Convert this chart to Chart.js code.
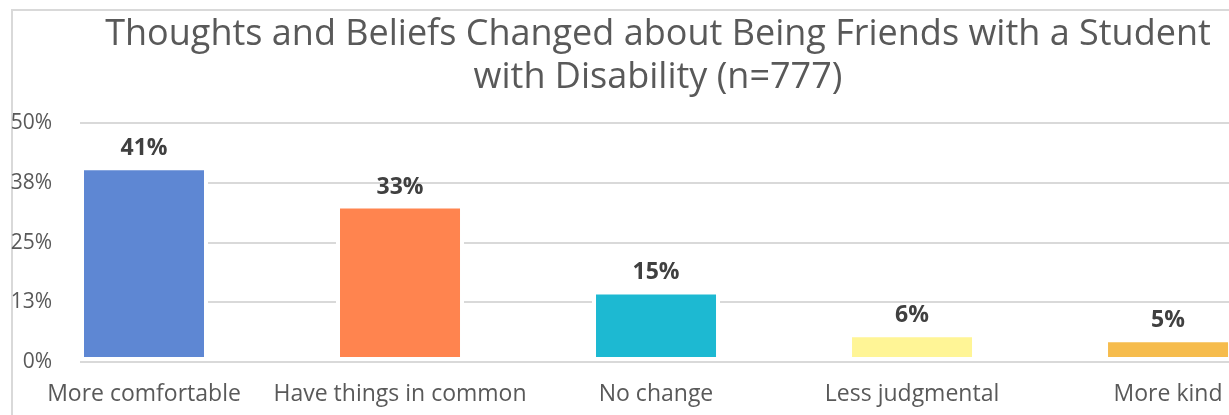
<!DOCTYPE html>
<html lang="en">
  <head>
    <meta charset="UTF-8" />
    <title>Thoughts and Beliefs Changed</title>
    <script src="https://cdn.jsdelivr.net/npm/chart.js"></script>
    <style>
      html,body{margin:0;padding:0;background:#fff;overflow:hidden}
      .frame{position:absolute;left:11px;top:9px;width:2000px;height:2000px;border-left:2px solid #d9d9d9;border-top:2px solid #d9d9d9}
      .wrap{position:absolute;left:0;top:0;width:1316px;height:415px}
    </style>
  </head>
  <body>
    <div class="frame"></div>
    <div class="wrap"><canvas id="chart"></canvas></div>

    <script>
      const categories = ['More comfortable', 'Have things in common', 'No change', 'Less judgmental', 'More kind'];
      const percents = [41, 33, 15, 6, 5];
      const barColors = ['#5E87D3', '#FF844F', '#1DB9D2', '#FFF596', '#F6BC4D'];
      const yTicks = [0, 12.5, 25, 37.5, 50];

      const FONT = "'Open Sans', sans-serif";

      // labels above the bars
      const barLabels = {
        id: 'barLabels',
        afterDatasetsDraw(chart) {
          const { ctx } = chart;
          const meta = chart.getDatasetMeta(0);
          ctx.save();
          ctx.font = `bold 23px ${FONT}`;
          ctx.fillStyle = '#404040';
          ctx.textAlign = 'center';
          ctx.textBaseline = 'alphabetic';
          meta.data.forEach((bar, i) => {
            ctx.fillText(percents[i] + '%', bar.x, bar.y - 11);
          });
          ctx.restore();
        }
      };

      new Chart(document.getElementById('chart'), {
        type: 'bar',
        data: {
          datasets: [{
            data: percents.map((v, i) => ({ x: i, y: v })),
            backgroundColor: barColors,
            borderColor: '#ffffff',
            borderWidth: 4,
            borderSkipped: false,
            categoryPercentage: 1,
            barPercentage: 0.5
          }]
        },
        options: {
          responsive: true,
          maintainAspectRatio: false,
          animation: false,
          layout: { padding: { left: 0, right: 0, top: 13, bottom: 0 } },
          plugins: {
            legend: { display: false },
            tooltip: { enabled: false },
            title: {
              display: true,
              text: ['Thoughts and Beliefs Changed about Being Friends with a Student', 'with Disability (n=777)'],
              color: '#595959',
              font: { family: FONT, size: 36, weight: 'normal', lineHeight: 1.2 },
              padding: { top: 0, bottom: 24 }
            }
          },
          scales: {
            x: {
              type: 'linear',
              offset: false,
              min: -0.25,
              max: 4.578,
              grid: { display: false, offset: false },
              border: { display: false },
              afterBuildTicks: s => { s.ticks = categories.map((c, i) => ({ value: i })); },
              afterFit: s => { s.height = 53; },
              ticks: {
                autoSkip: false,
                maxRotation: 0,
                padding: 11,
                color: '#595959',
                font: { family: FONT, size: 23 },
                callback: v => categories[v]
              }
            },
            y: {
              min: 0,
              max: 50,
              afterBuildTicks: s => { s.ticks = yTicks.map(v => ({ value: v })); },
              afterFit: s => { s.width = 80; },
              grid: { color: '#d9d9d9', lineWidth: 2, drawTicks: false },
              border: { display: false },
              ticks: {
                padding: 28,
                color: '#595959',
                font: { family: FONT, size: 21 },
                callback: v => Math.round(v) + '%'
              }
            }
          }
        },
        plugins: [barLabels]
      });
    </script>
  </body>
</html>
